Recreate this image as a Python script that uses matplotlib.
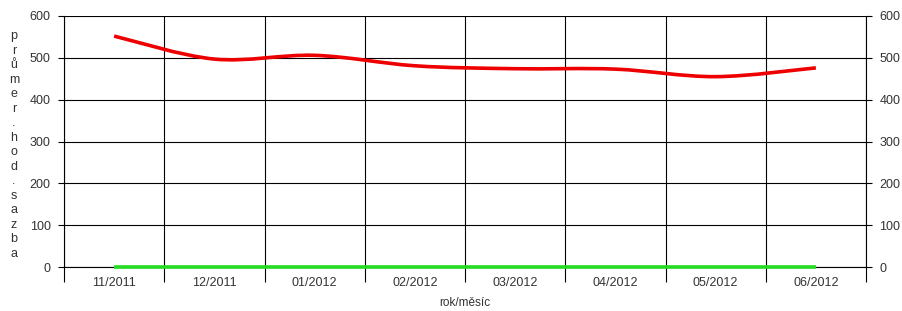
import matplotlib
matplotlib.use("Agg")
import matplotlib.pyplot as plt
import numpy as np
from matplotlib.path import Path
from matplotlib.patches import PathPatch

categories = ["11/2011", "12/2011", "01/2012", "02/2012", "03/2012", "04/2012", "05/2012", "06/2012"]
avg_rate = [552, 497, 506, 481, 474, 473, 455, 476]
second_series = [0, 0, 0, 0, 0, 0, 0, 0]
y_ticks = [0, 100, 200, 300, 400, 500, 600]

plt.rcParams['font.family'] = ['Liberation Sans', 'DejaVu Sans']
txt_color = '#333333'

fig = plt.figure(figsize=(9.02, 3.11), dpi=100)
ax = fig.add_axes([64/902, 1-267/311, (866-64)/902, (267-16)/311])

def smooth_path(xs, ys, t=0.5):
    xs = np.asarray(xs, float); ys = np.asarray(ys, float)
    n = len(xs)
    verts = [(xs[0], ys[0])]
    codes = [Path.MOVETO]
    for i in range(n - 1):
        p0 = (xs[max(i-1, 0)], ys[max(i-1, 0)])
        p1 = (xs[i], ys[i]); p2 = (xs[i+1], ys[i+1])
        p3 = (xs[min(i+2, n-1)], ys[min(i+2, n-1)])
        c1 = (p1[0] + (p2[0]-p0[0])*t/3, p1[1] + (p2[1]-p0[1])*t/3)
        c2 = (p2[0] - (p3[0]-p1[0])*t/3, p2[1] - (p3[1]-p1[1])*t/3)
        verts += [c1, c2, p2]
        codes += [Path.CURVE4]*3
    return Path(verts, codes)

x = np.arange(len(categories))
ax.add_patch(PathPatch(smooth_path(x, avg_rate), fill=False, edgecolor='#ee0000', lw=2.6, capstyle='butt', zorder=3))
ax.plot(x, second_series, color='#22dd22', lw=2.6, zorder=4, solid_capstyle='butt', clip_on=False)

ax.set_xlim(-0.5, len(categories) - 0.5)
ax.set_ylim(0, 600)
ax.set_yticks(y_ticks)
ax.yaxis.grid(True, color='black', lw=0.8)
ax.set_xticks(np.arange(-0.5, len(categories), 1.0))
ax.set_xticklabels([])
ax.xaxis.grid(True, color='black', lw=0.8)
ax.set_xticks(x, minor=True)
ax.set_xticklabels(categories, minor=True, fontsize=9, color=txt_color)
ax.tick_params(axis='x', which='major', length=11, width=0.8, direction='out')
ax.tick_params(axis='x', which='minor', length=0, pad=7)
ax.tick_params(axis='y', which='both', length=4.5, width=0.8, labelsize=9, labelcolor=txt_color,
               left=True, right=True, labelleft=True, labelright=True, pad=5)
for s in ax.spines.values():
    s.set_linewidth(0.8)
ax.spines['top'].set_visible(False)
ax.set_axisbelow(True)

ax.set_xlabel("rok/měsíc", fontsize=8.5, labelpad=6, color=txt_color)
label = "průmer.hod.sazba"
fig.text(14/902, 1-145/311, "\n".join(label), fontsize=9, ha='center', va='center', linespacing=1.28, color=txt_color)

fig.savefig("out.png", dpi=100)
